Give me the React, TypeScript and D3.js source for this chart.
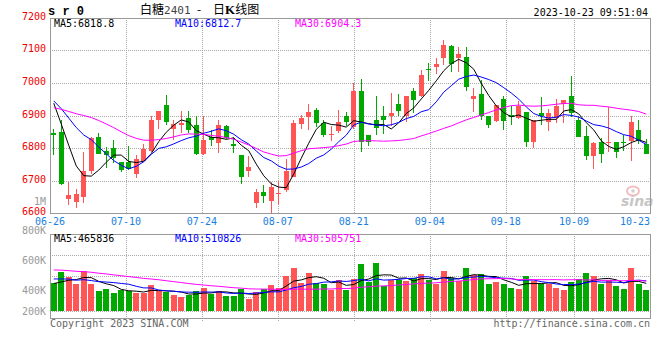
import { useEffect, useRef } from "react";
import * as d3 from "d3";

const dates = [
  "06-26", "06-27", "06-28", "06-29", "06-30",
  "07-03", "07-04", "07-05", "07-06", "07-07",
  "07-10", "07-11", "07-12", "07-13", "07-14",
  "07-17", "07-18", "07-19", "07-20", "07-21",
  "07-24", "07-25", "07-26", "07-27", "07-28",
  "07-31", "08-01", "08-02", "08-03", "08-04",
  "08-07", "08-08", "08-09", "08-10", "08-11",
  "08-14", "08-15", "08-16", "08-17", "08-18",
  "08-21", "08-22", "08-23", "08-24", "08-25",
  "08-28", "08-29", "08-30", "08-31", "09-01",
  "09-04", "09-05", "09-06", "09-07", "09-08",
  "09-11", "09-12", "09-13", "09-14", "09-15",
  "09-18", "09-19", "09-20", "09-21", "09-22",
  "09-25", "09-26", "09-27", "09-28",
  "10-09", "10-10", "10-11", "10-12", "10-13",
  "10-16", "10-17", "10-18", "10-19", "10-20",
  "10-23",
];

const opens = [
  6846, 6848, 6644, 6633, 6648, 6728, 6834, 6791, 6800, 6757,
  6757, 6721, 6761, 6791, 6885, 6932, 6858, 6871, 6891, 6871,
  6782, 6835, 6815, 6868, 6813, 6779, 6728, 6630, 6665, 6636,
  6657, 6670, 6712, 6874, 6895, 6917, 6878, 6840, 6851, 6899,
  6864, 6976, 6841, 6887, 6897, 6897, 6936, 6897, 6974, 6959,
  7043, 7048, 7078, 7114, 7076, 7081, 6950, 6966, 6899, 6884,
  6950, 6902, 6892, 6912, 6817, 6909, 6881, 6892, 6935, 6960,
  6887, 6838, 6774, 6820, 6814, 6817, 6820, 6822, 6854, 6813,
];
const highs = [
  6859, 6887, 6695, 6675, 6789, 6835, 6845, 6802, 6825, 6757,
  6806, 6779, 6812, 6898, 6914, 6963, 6886, 6915, 6915, 6899,
  6899, 6856, 6887, 6871, 6835, 6779, 6776, 6675, 6686, 6695,
  6697, 6766, 6886, 6902, 6936, 6922, 6887, 6868, 6917, 6912,
  6999, 7013, 6841, 6961, 6928, 6969, 6966, 6961, 6984, 7040,
  7061, 7078, 7133, 7117, 7112, 7112, 6984, 7010, 6899, 6931,
  6960, 6928, 6946, 6912, 6885, 6958, 6919, 6950, 6948, 7022,
  6899, 6868, 6820, 6830, 6925, 6817, 6841, 6897, 6887, 6827,
];
const lows = [
  6779, 6685, 6625, 6615, 6632, 6721, 6783, 6738, 6753, 6727,
  6733, 6709, 6761, 6789, 6858, 6872, 6825, 6845, 6845, 6780,
  6780, 6807, 6784, 6828, 6784, 6689, 6710, 6615, 6631, 6600,
  6625, 6666, 6710, 6858, 6856, 6864, 6835, 6823, 6846, 6868,
  6858, 6788, 6805, 6841, 6843, 6869, 6897, 6880, 6907, 6956,
  7005, 7027, 7056, 7035, 7033, 6974, 6912, 6887, 6861, 6880,
  6856, 6871, 6890, 6802, 6800, 6871, 6851, 6876, 6876, 6895,
  6833, 6764, 6736, 6754, 6789, 6769, 6792, 6759, 6813, 6782,
];
const closes = [
  6839, 6690, 6656, 6659, 6730, 6832, 6783, 6777, 6768, 6731,
  6735, 6765, 6797, 6886, 6914, 6881, 6873, 6878, 6854, 6782,
  6825, 6825, 6871, 6830, 6805, 6712, 6740, 6665, 6651, 6680,
  6663, 6730, 6878, 6891, 6912, 6876, 6840, 6843, 6881, 6881,
  6976, 6818, 6818, 6863, 6887, 6907, 6913, 6961, 6948, 7025,
  7040, 7059, 7117, 7058, 7089, 6989, 6959, 6900, 6870, 6931,
  6884, 6895, 6928, 6820, 6885, 6899, 6909, 6928, 6948, 6907,
  6833, 6774, 6815, 6782, 6820, 6789, 6814, 6879, 6823, 6782,
];
const volumes = [
  468000, 654000, 574000, 456000, 676000, 456000, 338000, 372000, 304000, 355000,
  338000, 304000, 304000, 439000, 338000, 316000, 270000, 242000, 270000, 338000,
  394000, 282000, 338000, 258000, 258000, 372000, 203000, 316000, 372000, 439000,
  394000, 591000, 731000, 468000, 637000, 468000, 461000, 355000, 524000, 355000,
  541000, 794000, 485000, 811000, 422000, 524000, 524000, 507000, 552000, 625000,
  524000, 451000, 676000, 552000, 507000, 726000, 608000, 625000, 456000, 490000,
  456000, 394000, 372000, 591000, 507000, 451000, 451000, 394000, 355000, 485000,
  541000, 642000, 591000, 456000, 524000, 422000, 372000, 726000, 456000, 355000,
];

// sessions before 06-26, only used to seed the moving averages
const priorCloses = [
  6840, 6855, 6870, 6890, 7020, 7060, 7095, 7110, 7111, 7090,
  7020, 6960, 6900, 6840, 6790, 6720, 6700, 6760, 6800, 6840,
  6930, 6945, 6950, 6960, 6976, 7010, 6985, 6975, 6880,
];
const priorVolumes = [
  760000, 820000, 790000, 850000, 770000, 810000, 740000, 800000, 780000, 793000,
  720000, 780000, 760000, 700000, 810000, 740000, 690000, 770000, 760000, 737000,
  650000, 600000, 640000, 590000, 612000, 520000, 430000, 400000, 500000,
];

const priceTicks = [7200, 7100, 7000, 6900, 6800, 6700, 6600];
const dateTicks = ["06-26", "07-10", "07-24", "08-07", "08-21", "09-04", "09-18", "10-09", "10-23"];
const volumeTicks = [1000000, 800000, 600000, 400000, 200000];
const volumeTickLabels = ["1M", "800K", "600K", "400K", "200K"];
const maPeriods = [5, 10, 30];
const maColors = ["#000000", "#0000ff", "#ff00ff"];
const priceMaLegend = ["MA5:6818.8", "MA10:6812.7", "MA30:6904.3"];
const volumeMaLegend = ["MA5:465836", "MA10:510826", "MA30:505751"];

const mono = "'DejaVu Sans Mono', monospace";
const UP = "#ff5555";
const DOWN = "#00a800";

function movingAverage(values: number[], prior: number[], n: number) {
  const all = prior.concat(values);
  return values.map((_, i) => d3.mean(all.slice(prior.length + i - n + 1, prior.length + i + 1)) as number);
}

const App = () => {
  const ref = useRef<SVGSVGElement>(null);

  useEffect(() => {
    const svg = d3.select(ref.current);
    svg.selectAll("*").remove();

    const left = 50;
    const right = 650;
    const top = 18;
    const bottom = 213;
    const vTop = 234;
    const vBottom = 318;
    const vBase = 311;
    const n = dates.length;

    const x = d3.scaleBand<number>().domain(d3.range(n)).range([left, right]);
    const cx = (i: number) => (x(i) as number) + x.bandwidth() / 2;
    const xGrid = d3.scaleLinear().domain([0, n - 1]).range([left, right]);
    const y = d3.scaleLinear().domain([6600, 7200]).range([bottom, top]);
    const yv = d3.scaleLinear().domain([0, 1300000]).range([vBase, vTop]);
    const yvLabel = d3.scaleLinear().domain([200000, 1000000]).range([320, 201]);

    svg.append("rect").attr("width", 660).attr("height", 360).attr("fill", "#fff");

    const grid = svg.append("g").attr("stroke", "#aaa").attr("stroke-dasharray", "1,1");

    // price gridlines
    priceTicks.slice(1, -1).forEach((p) => {
      const yy = Math.round(y(p)) + 0.5;
      grid.append("line").attr("x1", left).attr("x2", right).attr("y1", yy).attr("y2", yy);
    });
    // volume gridlines
    [255, 276, 297].forEach((yy) => {
      grid.append("line").attr("x1", left).attr("x2", right).attr("y1", yy + 0.5).attr("y2", yy + 0.5);
    });
    grid.append("line").attr("x1", left).attr("x2", right).attr("y1", vBase + 0.5).attr("y2", vBase + 0.5);

    // date gridlines
    dateTicks.slice(1, -1).forEach((d) => {
      const xx = Math.round(xGrid(dates.indexOf(d))) + 0.5;
      grid.append("line").attr("x1", xx).attr("x2", xx).attr("y1", top).attr("y2", bottom);
      grid.append("line").attr("x1", xx).attr("x2", xx).attr("y1", vTop).attr("y2", vBottom + 3);
    });

    // panel borders
    svg
      .append("rect")
      .attr("x", left + 0.5)
      .attr("y", top + 0.5)
      .attr("width", right - left)
      .attr("height", bottom - top)
      .attr("fill", "none")
      .attr("stroke", "#999");
    svg
      .append("rect")
      .attr("x", left + 0.5)
      .attr("y", vTop + 0.5)
      .attr("width", right - left)
      .attr("height", vBottom - vTop)
      .attr("fill", "none")
      .attr("stroke", "#999");

    // sina watermark
    const mark = svg.append("g").attr("opacity", 0.55);
    mark
      .append("ellipse")
      .attr("cx", 633)
      .attr("cy", 191)
      .attr("rx", 6)
      .attr("ry", 4.5)
      .attr("fill", "none")
      .attr("stroke", "#e88")
      .attr("stroke-width", 2);
    mark
      .append("circle")
      .attr("cx", 633)
      .attr("cy", 191)
      .attr("r", 1.8)
      .attr("fill", "#aaa");
    mark
      .append("text")
      .attr("x", 621)
      .attr("y", 206)
      .attr("font-family", "'DejaVu Sans', sans-serif")
      .attr("font-style", "italic")
      .attr("font-weight", "bold")
      .attr("font-size", 14)
      .attr("fill", "#999")
      .text("sina");

    // candles
    const candles = svg.append("g").attr("shape-rendering", "crispEdges");
    dates.forEach((_, i) => {
      const up = closes[i] >= opens[i];
      const color = up ? UP : DOWN;
      const x0 = Math.round(cx(i) - 2.5);
      const yTop = Math.round(y(Math.max(opens[i], closes[i])));
      const yBot = Math.round(y(Math.min(opens[i], closes[i])));
      candles
        .append("line")
        .attr("x1", x0 + 2.5)
        .attr("x2", x0 + 2.5)
        .attr("y1", Math.round(y(highs[i])))
        .attr("y2", Math.round(y(lows[i])))
        .attr("stroke", color);
      candles
        .append("rect")
        .attr("x", x0)
        .attr("y", yTop)
        .attr("width", 5)
        .attr("height", Math.max(1, yBot - yTop))
        .attr("fill", color);
    });

    // volume bars
    svg
      .append("g")
      .attr("shape-rendering", "crispEdges")
      .selectAll("rect")
      .data(volumes)
      .enter()
      .append("rect")
      .attr("x", (d, i) => Math.round(cx(i) - 3))
      .attr("y", (d) => Math.round(yv(d)))
      .attr("width", 6)
      .attr("height", (d) => vBase - Math.round(yv(d)))
      .attr("fill", (d, i) => (closes[i] >= opens[i] ? UP : DOWN));

    // moving averages
    maPeriods.forEach((p, k) => {
      const priceMa = movingAverage(closes, priorCloses, p);
      const volMa = movingAverage(volumes, priorVolumes, p);
      svg
        .append("path")
        .datum(priceMa)
        .attr("fill", "none")
        .attr("stroke", maColors[k])
        .attr("stroke-width", 1)
        .attr("d", d3.line<number>().x((d, i) => cx(i)).y((d) => y(d)));
      svg
        .append("path")
        .datum(volMa)
        .attr("fill", "none")
        .attr("stroke", maColors[k])
        .attr("stroke-width", 1)
        .attr("d", d3.line<number>().x((d, i) => cx(i)).y((d) => yv(d)));
    });

    const text = (tx: number, ty: number, s: string, color: string, anchor = "start", size = 10) =>
      svg
        .append("text")
        .attr("x", tx)
        .attr("y", ty)
        .attr("fill", color)
        .attr("font-family", mono)
        .attr("font-size", size)
        .attr("text-anchor", anchor)
        .attr("xml:space", "preserve")
        .text(s);

    // legends
    [54, 175, 295].forEach((lx, k) => {
      text(lx, 27, priceMaLegend[k], maColors[k]);
      text(lx, 241.5, volumeMaLegend[k], maColors[k]);
    });

    // price axis labels
    priceTicks.forEach((p) => text(46, Math.round(y(p)) + 2, String(p), "#ee0000", "end"));

    // volume axis labels
    volumeTicks.forEach((v, k) =>
      text(46, Math.min(yvLabel(v), vBase) + 3.6, volumeTickLabels[k], "#999", "end")
    );

    // date labels
    dateTicks.forEach((d) => {
      const xx = xGrid(dates.indexOf(d));
      const clamped = Math.min(xx, right - 15);
      text(clamped, 225, d, "#1a80e0", "middle");
    });

    // header
    svg
      .append("text")
      .attr("x", 48)
      .attr("y", 15)
      .attr("font-family", "'Liberation Mono', monospace")
      .attr("font-weight", "bold")
      .attr("font-size", 12)
      .attr("xml:space", "preserve")
      .text("s r 0");

    const title = svg
      .append("text")
      .attr("y", 14)
      .attr("font-family", "'Noto Sans CJK SC', sans-serif")
      .attr("font-size", 12)
      .attr("fill", "#000");
    title.append("tspan").attr("x", 140).text("白糖");
    title.append("tspan").attr("fill", "#444").attr("font-family", mono).attr("font-size", 11).text("2401");
    title.append("tspan").attr("x", 197).text("-");
    title.append("tspan").attr("x", 213).text("日");
    title
      .append("tspan")
      .attr("font-family", "'Liberation Serif', serif")
      .attr("font-weight", "bold")
      .attr("font-size", 13)
      .text("K");
    title.append("tspan").text("线图");

    text(648, 15.5, "2023-10-23 09:51:04", "#000", "end");

    // footer
    text(50, 327, "Copyright 2023 SINA.COM", "#666");
    text(650, 327, "http://finance.sina.com.cn", "#666", "end");
  }, []);

  return (
    <svg
      ref={ref}
      width={660}
      height={360}
      style={{ position: "absolute", left: 0, top: 0, display: "block" }}
    />
  );
};

export default App;
